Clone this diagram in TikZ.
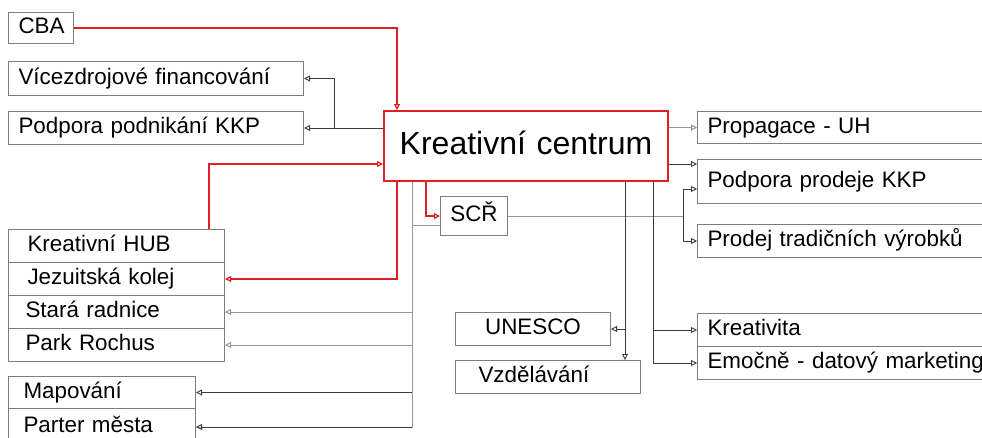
\documentclass[tikz,border=0pt]{standalone}
\usepackage{fontspec}
\setmainfont{Liberation Sans}
\usetikzlibrary{arrows.meta}
\definecolor{kcred}{RGB}{222,32,38}
\definecolor{boxgray}{RGB}{125,125,125}
\definecolor{lightln}{RGB}{150,150,150}
\definecolor{darkln}{RGB}{60,60,60}
\begin{document}
\begin{tikzpicture}[x=1pt, y=-1pt,
		box/.style={draw=boxgray, line width=1pt, anchor=north west, inner xsep=10pt, inner ysep=0pt,
			align=left, text height=16.5pt, text depth=5pt, font=\fontsize{22.4}{26}\selectfont},
		tip/.style={-{Triangle[open, length=6pt, width=6pt]}},
		redline/.style={tip, draw=kcred, line width=1.2pt},
		lightline/.style={draw=lightln, line width=1pt},
		darkline/.style={draw=darkln, line width=0.9pt}]
	\useasboundingbox[fill=white] (0,0) rectangle (982,437);
	% left column
	\node[box, text width=45pt, minimum height=31pt] (cba) at (8,12) {CBA};
	\node[box, text width=275pt, minimum height=34pt] (vicez) at (8,61) {Vícezdrojové financování};
	\node[box, text width=275pt, minimum height=33pt] (podnik) at (8,111) {Podpora podnikání KKP};
	\node[box, inner xsep=19pt, text width=178pt, minimum height=33pt] (hub) at (8,229) {Kreativní HUB};
	\node[box, inner xsep=19pt, text width=178pt, minimum height=33pt] (jez) at (8,262) {Jezuitská kolej};
	\node[box, inner xsep=17pt, text width=182pt, minimum height=33pt] (stara) at (8,295) {Stará radnice};
	\node[box, inner xsep=17pt, text width=182pt, minimum height=33pt] (park) at (8,328) {Park Rochus};
	\node[box, inner xsep=15pt, text width=157pt, minimum height=32pt] (mapo) at (8,376) {Mapování};
	\node[box, inner xsep=15pt, text width=157pt, minimum height=33pt, text depth=13pt, text height=24pt] (parter) at (8,408) {Parter města};
	% centre
	\node[box, draw=kcred, line width=2pt, align=center, inner xsep=0pt, text width=284pt, minimum height=70pt,
		text height=23pt, text depth=7pt, font=\fontsize{32}{36}\selectfont] (kc) at (383,110) {Kreativní centrum};
	\node[box, align=center, inner xsep=0pt, text width=67pt, minimum height=39pt] (scr) at (440,196) {SCŘ};
	\node[box, align=center, inner xsep=0pt, text width=155pt, minimum height=33pt] (unesco) at (455,312) {UNESCO};
	\node[box, inner xsep=23pt, text width=139pt, minimum height=33pt] (vzdel) at (455,360) {Vzdělávání};
	% right column
	\node[box, text width=280pt, minimum height=32pt] (propag) at (697,111) {Propagace - UH};
	\node[box, text width=280pt, minimum height=44pt] (prodeje) at (697,159) {Podpora prodeje KKP};
	\node[box, text width=280pt, minimum height=33pt] (trad) at (697,224) {Prodej tradičních výrobků};
	\node[box, text width=280pt, minimum height=33pt] (kreat) at (697,313) {Kreativita};
	\node[box, text width=280pt, minimum height=33pt] (emoc) at (697,346) {Emočně - datový marketing};
	% junctions
	\coordinate (fj) at ([xshift=-49pt]podnik.east -| kc.west);
	\coordinate (tr) at ([xshift=29pt]kc.south west);
	\coordinate (sj) at ([xshift=-14pt]trad.west);
	\coordinate (vj) at ([xshift=242pt]kc.south west);
	\coordinate (ej) at ([xshift=270pt]kc.south west);
	% red connectors
	\draw[redline] (cba.east) -| ([xshift=14pt]kc.north west);
	\draw[redline] ([xshift=201pt]hub.north west) |- ([yshift=-18pt]kc.west);
	\draw[redline] ([xshift=14pt]kc.south west) |- (jez.east);
	\draw[redline] ([xshift=43pt]kc.south west) |- (scr.west);
	% left connectors
	\draw[darkline, tip] (podnik.east -| kc.west) -- (podnik.east);
	\draw[darkline, tip] (fj) |- (vicez.east);
	\draw[lightline] (tr) |- (parter.east);
	\draw[lightline] (tr |- 0,225) -- (scr.west |- 0,225);
	\draw[lightline, tip] (tr |- stara.east) -- (stara.east);
	\draw[lightline, tip] (tr |- park.east) -- (park.east);
	\draw[darkline, tip] (tr |- mapo.east) -- (mapo.east);
	\draw[darkline, tip] (tr |- parter.east) -- (parter.east);
	% right connectors
	\draw[lightline, tip] (propag.west -| kc.east) -- (propag.west);
	\draw[darkline, tip] ([yshift=-18pt]kc.east) -- ([yshift=-18pt]kc.east -| prodeje.west);
	\draw[lightline] (scr.east) -- (scr.east -| sj);
	\draw[darkline, tip] (sj |- 0,189) -- (prodeje.west |- 0,189);
	\draw[darkline, tip] (sj |- 0,189) |- (trad.west);
	% lower connectors
	\draw[darkline, tip] (vj) -- (vj |- vzdel.north);
	\draw[darkline, tip] (vj |- unesco.east) -- (unesco.east);
	\draw[darkline, tip] (ej) |- (emoc.west);
	\draw[darkline, tip] (ej |- kreat.west) -- (kreat.west);
\end{tikzpicture}
\end{document}
